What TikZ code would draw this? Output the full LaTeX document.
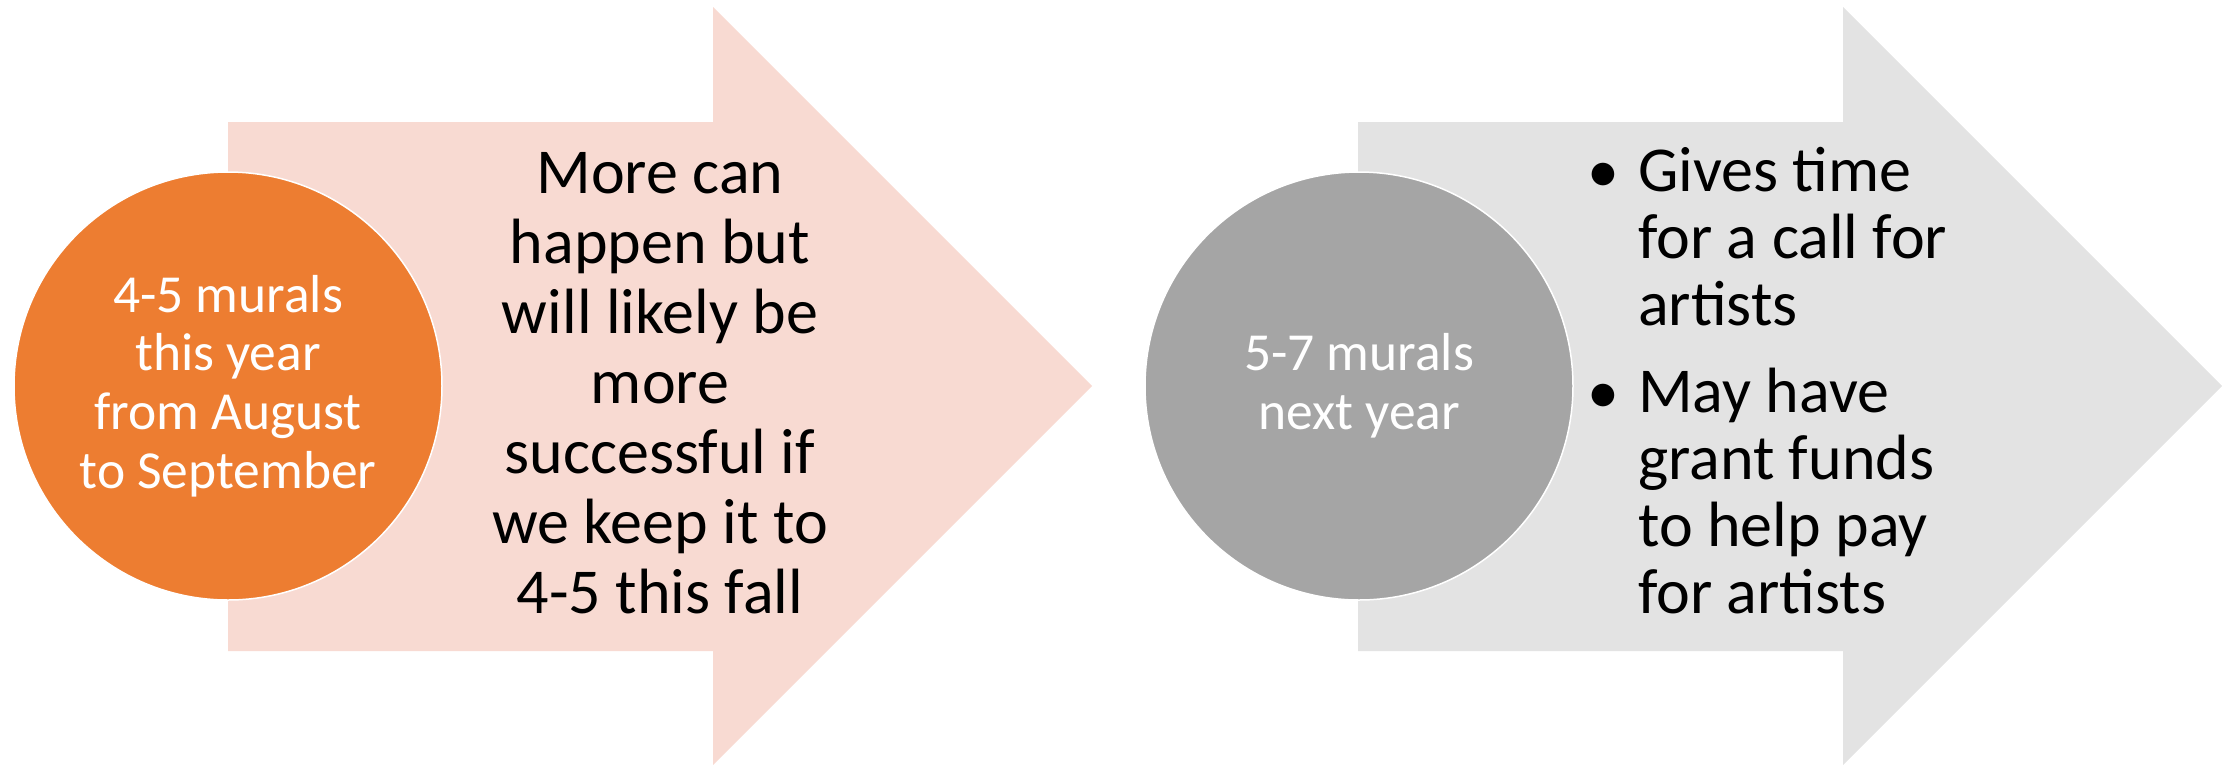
\documentclass[tikz,border=0pt]{standalone}
\usepackage{fontspec}
\setmainfont{Carlito}
\definecolor{orangeC}{HTML}{ED7D31}
\definecolor{pinkA}{HTML}{F8DAD2}
\definecolor{grayC}{HTML}{A5A5A5}
\definecolor{grayA}{HTML}{E3E3E3}
\tikzset{
  bigarrow/.style={draw=none},
  circnode/.style={circle, draw=white, line width=1.5pt, minimum size=428pt, inner sep=0pt,
    align=center, text=white, font=\fontsize{53.5}{58.7}\selectfont},
  bodytext/.style={inner sep=0pt, text=black, font=\fontsize{64}{70}\selectfont},
  bullettext/.style={inner sep=0pt, text=black, align=left, font=\fontsize{64}{66.7}\selectfont},
  bulletmark/.style={inner sep=0pt, text=black, font=\fontsize{64}{66.7}\selectfont}
}
\begin{document}
\begin{tikzpicture}[x=1pt,y=-1pt]
\useasboundingbox (0,0) rectangle (2236,764);
% left arrow
\fill[pinkA, bigarrow] (228,122) -- (713,122) -- (713,7) -- (1092,386) -- (713,765) -- (713,651) -- (228,651) -- cycle;
% right arrow
\fill[grayA, bigarrow] (1358,122) -- (1843,122) -- (1843,7) -- (2222,386) -- (1843,765) -- (1843,651) -- (1358,651) -- cycle;
% circles
\node[circnode, fill=orangeC] (c1) at (228,386) {4-5 murals\\this year\\from August\\to September};
\node[circnode, fill=grayC] (c2) at (1359,386) {5-7 murals\\next year};
% left arrow text (anchor base = last line baseline)
\node[bodytext, align=center, anchor=base] (t1) at (660,613)
  {More can\\happen but\\will likely be\\more\\successful if\\we keep it to\\4-5 this fall};
% right arrow bullets
\node[bulletmark, anchor=base] (b1) at (1603,192) {•};
\node[bullettext, anchor=base west] (p1) at (1638,325) {Gives time\\for a call for\\artists};
\node[bulletmark, anchor=base] (b2) at (1603,413) {•};
\node[bullettext, anchor=base west] (p2) at (1638,613) {May have\\grant funds\\to help pay\\for artists};
\end{tikzpicture}
\end{document}
